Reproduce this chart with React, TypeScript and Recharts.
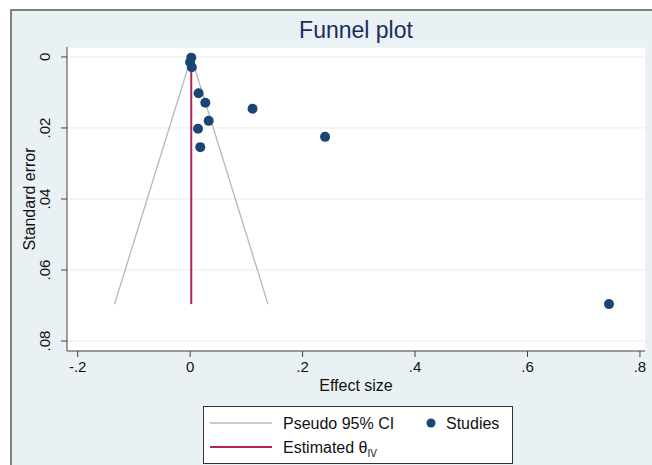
import React from 'react';
import { ScatterChart, Scatter, XAxis, YAxis, CartesianGrid, ReferenceLine } from 'recharts';

const effectSize = [0.002, 0.0, 0.003, 0.015, 0.027, 0.111, 0.033, 0.014, 0.018, 0.240, 0.745];
const standardError = [0.0002, 0.0015, 0.0029, 0.0102, 0.0129, 0.0146, 0.018, 0.0202, 0.0254, 0.0225, 0.0696];
const thetaIV = 0.002;
const maxSE = 0.0696;
const xTicks = [-0.2, 0, 0.2, 0.4, 0.6, 0.8];
const yTicks = [0, 0.02, 0.04, 0.06, 0.08];

const FONT = '"Liberation Sans", Arial, Helvetica, sans-serif';
const DOT = '#1a4676';
const RED = '#b3264c';
const GRAYLINE = '#b8b8b8';

const fmt = (v: number) => {
  if (v === 0) return '0';
  const s = String(Math.abs(v)).replace(/^0/, '');
  return (v < 0 ? '-' : '') + s;
};

const data = effectSize.map((x, i) => ({ x, y: standardError[i] }));

const YTick = (props: any) => {
  const { x, y, payload } = props;
  const bx = x - 9;
  return (
    <text x={bx} y={y} transform={`rotate(-90 ${bx} ${y})`} textAnchor="middle" fontSize={15} fill="#111" fontFamily={FONT}>
      {fmt(payload.value)}
    </text>
  );
};

const XTick = (props: any) => {
  const { x, y, payload } = props;
  return (
    <text x={x} y={y + 13} textAnchor="middle" fontSize={15} fill="#111" fontFamily={FONT}>
      {fmt(payload.value)}
    </text>
  );
};

const YLabel = (props: any) => {
  const vb = props.viewBox || { x: 0, y: 47, width: 67, height: 304 };
  const cx = vb.x + 35;
  const cy = vb.y + vb.height / 2;
  return (
    <text x={cx} y={cy} transform={`rotate(-90 ${cx} ${cy})`} textAnchor="middle" fontSize={16} fill="#111" fontFamily={FONT}>
      Standard error
    </text>
  );
};

const XLabel = (props: any) => {
  const vb = props.viewBox || { x: 67, y: 351, width: 578, height: 114 };
  const cx = vb.x + vb.width / 2;
  return (
    <text x={cx} y={vb.y + 40} textAnchor="middle" fontSize={16} fill="#111" fontFamily={FONT}>
      Effect size
    </text>
  );
};

export default function App() {
  return (
    <div style={{ position: 'absolute', left: 0, top: 0, width: 652, height: 465, background: '#ffffff', overflow: 'hidden', fontFamily: FONT }}>
      <div style={{ position: 'absolute', left: 10, top: 9, width: 660, height: 470, background: '#e9f1f4', borderLeft: '2px solid #808080', borderTop: '2px solid #808080' }} />
      <div style={{ position: 'absolute', left: 256, width: 200, top: 17, textAlign: 'center', fontSize: 23, color: '#1b2d5e', fontFamily: FONT }}>
        Funnel plot
      </div>
      <div style={{ position: 'absolute', left: 0, top: 0 }}>
        <ScatterChart width={652} height={465} margin={{ top: 47, right: 7, bottom: 0, left: 0 }}>
          <CartesianGrid vertical={false} horizontal={true} stroke="#e4edf1" fill="#ffffff" fillOpacity={1} />
          <XAxis
            type="number"
            dataKey="x"
            domain={[-0.219, 0.809]}
            ticks={xTicks}
            allowDataOverflow
            height={114}
            tickSize={6}
            tick={<XTick />}
            axisLine={{ stroke: '#444', strokeWidth: 1 }}
            tickLine={{ stroke: '#444' }}
            label={<XLabel />}
          />
          <YAxis
            type="number"
            dataKey="y"
            reversed
            domain={[-0.0028, 0.0828]}
            ticks={yTicks}
            allowDataOverflow
            width={67}
            tickSize={6}
            tick={<YTick />}
            axisLine={{ stroke: '#444', strokeWidth: 1 }}
            tickLine={{ stroke: '#444' }}
            label={<YLabel />}
          />
          <ReferenceLine
            segment={[{ x: thetaIV, y: 0 }, { x: thetaIV - 1.96 * maxSE, y: maxSE }]}
            stroke={GRAYLINE}
            strokeWidth={1.3}
          />
          <ReferenceLine
            segment={[{ x: thetaIV, y: 0 }, { x: thetaIV + 1.96 * maxSE, y: maxSE }]}
            stroke={GRAYLINE}
            strokeWidth={1.3}
          />
          <ReferenceLine
            segment={[{ x: thetaIV, y: 0 }, { x: thetaIV, y: maxSE }]}
            stroke={RED}
            strokeWidth={2}
          />
          <Scatter
            data={data}
            isAnimationActive={false}
            fill={DOT}
            shape={(p: any) => <circle cx={p.cx} cy={p.cy} r={5} fill={DOT} />}
          />
        </ScatterChart>
      </div>
      <svg style={{ position: 'absolute', left: 203, top: 406 }} width={310} height={58}>
        <rect x={0.5} y={0.5} width={309} height={57} fill="#ffffff" stroke="#333" strokeWidth={1} />
        <line x1={7} x2={69} y1={17} y2={17} stroke={GRAYLINE} strokeWidth={1.5} />
        <text x={80} y={22.5} fontSize={16} fill="#111" fontFamily={FONT}>Pseudo 95% CI</text>
        <circle cx={228} cy={17} r={4.5} fill={DOT} />
        <text x={243} y={22.5} fontSize={16} fill="#111" fontFamily={FONT}>Studies</text>
        <line x1={7} x2={69} y1={41} y2={41} stroke={RED} strokeWidth={2} />
        <text x={80} y={46.5} fontSize={16} fill="#111" fontFamily={FONT}>
          Estimated θ<tspan dy={4} fontSize={10}>IV</tspan>
        </text>
      </svg>
    </div>
  );
}
